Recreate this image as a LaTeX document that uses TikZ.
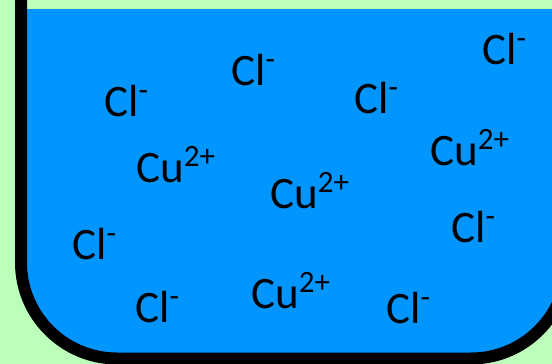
\documentclass[tikz,border=0pt]{standalone}
\usepackage{fontspec}
\setmainfont{Carlito}
\definecolor{bg}{HTML}{BBFFBB}
\definecolor{liq}{HTML}{0095FF}
\newcommand{\ionsup}[1]{\raisebox{16pt}{\fontsize{31}{31}\selectfont #1}}
\begin{document}
\begin{tikzpicture}[x=1pt,y=-1pt,
  ion/.style={anchor=base west, inner sep=0pt, font=\fontsize{45}{45}\selectfont},
  wall/.style={draw=black, line width=12pt, rounded corners=96pt}]
\useasboundingbox (0,0) rectangle (552,364);
\fill[bg] (0,0) rectangle (552,364);
\begin{scope}
\clip (0,9) rectangle (552,364);
\fill[liq, rounded corners=96pt] (21,-200) -- (21,358.5) -- (567,358.5) -- (567,-200) -- cycle;
\end{scope}
\begin{scope}
\clip (0,0) rectangle (552,364);
\draw[wall] (21,-200) -- (21,358.5) -- (567,358.5) -- (567,-200);
\end{scope}
\node[ion] (cl1) at (482,64) {Cl\ionsup{-}};
\node[ion] (cl2) at (231,85) {Cl\ionsup{-}};
\node[ion] (cl3) at (104,116) {Cl\ionsup{-}};
\node[ion] (cl4) at (354,113) {Cl\ionsup{-}};
\node[ion] (cu1) at (136,182) {Cu\ionsup{2+}};
\node[ion] (cu2) at (270,208) {Cu\ionsup{2+}};
\node[ion] (cu3) at (430,165) {Cu\ionsup{2+}};
\node[ion] (cl5) at (451,242) {Cl\ionsup{-}};
\node[ion] (cl6) at (72,259) {Cl\ionsup{-}};
\node[ion] (cu4) at (251,308) {Cu\ionsup{2+}};
\node[ion] (cl7) at (135,322) {Cl\ionsup{-}};
\node[ion] (cl8) at (386,323) {Cl\ionsup{-}};
\end{tikzpicture}
\end{document}
